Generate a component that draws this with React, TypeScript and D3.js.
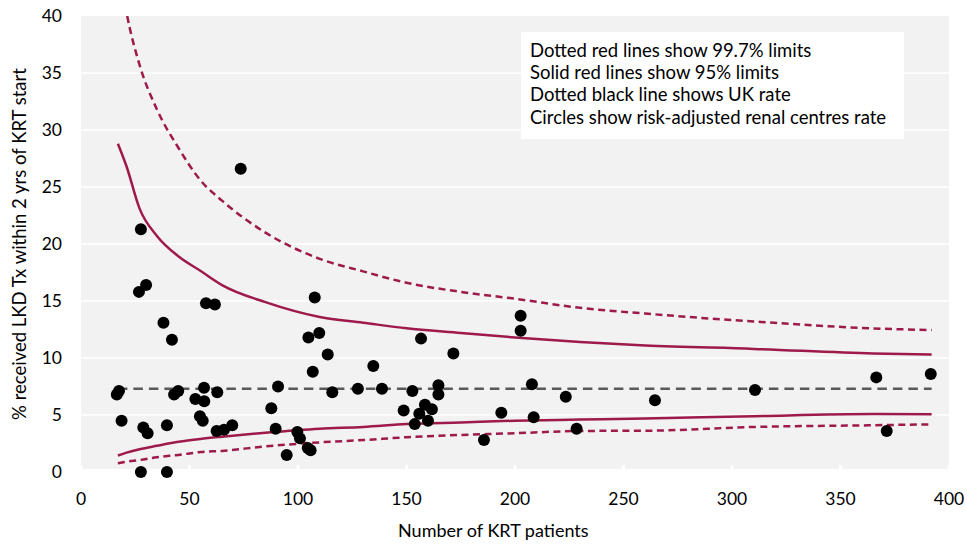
import React from "react";
import * as d3 from "d3";

const width = 967;
const height = 545;
const margin = { left: 81, right: 19, top: 16, bottom: 73 };
const font = "Lato, 'Open Sans', sans-serif";
const red = "#9e1a4b";

// renal centres: number of KRT patients and risk-adjusted rate (%)
const centreN = [
  73.6, 27.6, 30, 26.7, 57.6, 61.7, 38, 41.9, 16.5, 17.5, 18.7, 28.7, 30.7, 39.6,
  42.9, 44.8, 56.7, 52.7, 56.8, 54.8, 56.1, 62.8, 62.5, 65.9, 69.7, 27.6, 39.6,
  107.7, 104.8, 109.8, 113.7, 106.8, 90.8, 115.8, 127.6, 138.7, 134.7, 87.7, 89.7,
  99.7, 100.9, 104.5, 105.8, 94.8, 156.7, 171.6, 152.7, 164.7, 164.7, 148.7, 158.5,
  161.7, 155.9, 159.9, 153.8, 202.6, 202.6, 207.8, 223.4, 208.6, 193.7, 185.7,
  228.4, 264.5, 310.6, 366.5, 391.6, 371.3,
];
const centreRate = [
  26.6, 21.3, 16.4, 15.8, 14.8, 14.7, 13.1, 11.6, 6.8, 7.1, 4.5, 3.9, 3.4, 4.1,
  6.8, 7.1, 7.4, 6.4, 6.2, 4.9, 4.5, 7.0, 3.6, 3.7, 4.1, 0, 0,
  15.3, 11.8, 12.2, 10.3, 8.8, 7.5, 7.0, 7.3, 7.3, 9.3, 5.6, 3.8,
  3.5, 2.95, 2.1, 1.9, 1.5, 11.7, 10.4, 7.1, 7.6, 6.8, 5.4, 5.9,
  5.5, 5.1, 4.5, 4.2, 13.7, 12.4, 7.7, 6.6, 4.8, 5.2, 2.8,
  3.8, 6.3, 7.2, 8.3, 8.6, 3.6,
];

// funnel limits read at these patient numbers
const limitN = [17, 21, 27, 35, 45, 55, 65, 85, 110, 130, 150, 175, 200, 230, 260, 310, 365, 392];
const upper95 = [28.8, 26.8, 23.1, 20.7, 18.9, 17.65, 16.4, 14.9, 13.6, 13.1, 12.6, 12.2, 11.8, 11.4, 11.1, 10.8, 10.4, 10.3];
const lower95 = [1.45, 1.7, 2.0, 2.3, 2.65, 2.9, 3.1, 3.45, 3.8, 3.95, 4.2, 4.35, 4.5, 4.6, 4.7, 4.9, 5.08, 5.06];
const upper997 = [45, 40.3, 35.7, 31.8, 28.4, 25.6, 23.8, 21.0, 18.7, 17.6, 16.6, 15.8, 15.2, 14.4, 13.9, 13.2, 12.6, 12.45];
const lower997 = [0.76, 0.9, 1.05, 1.3, 1.5, 1.75, 1.85, 2.25, 2.6, 2.8, 3.05, 3.25, 3.4, 3.6, 3.62, 3.95, 4.1, 4.18];

const ukRate = 7.3;
const ukRange = [17, 392];

const xTicks = [0, 50, 100, 150, 200, 250, 300, 350, 400];
const yTicks = [0, 5, 10, 15, 20, 25, 30, 35, 40];

const legendLines = [
  "Dotted red lines show 99.7% limits",
  "Solid red lines show 95% limits",
  "Dotted black line shows UK rate",
  "Circles show risk-adjusted renal centres rate",
];

const x = d3.scaleLinear().domain([0, 400]).range([margin.left, width - margin.right + 1]);
const y = d3.scaleLinear().domain([0, 40]).range([height - margin.bottom, margin.top]);

const limitLine = (vals: number[]) =>
  d3
    .line<number>()
    .x((_, i) => x(limitN[i]))
    .y((d) => y(d))
    .curve(d3.curveMonotoneX)(vals) as string;

const App = () => {
  const plotBottom = y(0) - 3;
  return (
    <svg
      width={width}
      height={height}
      style={{ position: "absolute", left: 0, top: 0, background: "white" }}
      fontFamily={font}
    >
      <defs>
        <clipPath id="plotClip">
          <rect x={margin.left} y={y(40)} width={x(400) - margin.left} height={height} />
        </clipPath>
      </defs>
      <rect
        x={margin.left}
        y={y(40)}
        width={x(400) - margin.left}
        height={plotBottom - y(40)}
        fill="#f2f2f2"
      />
      {yTicks
        .filter((t) => t > 0 && t < 40)
        .map((t) => (
          <line key={t} x1={margin.left} x2={x(400)} y1={y(t)} y2={y(t)} stroke="white" strokeWidth={1.5} />
        ))}
      {xTicks.map((t) => (
        <line key={t} x1={x(t)} x2={x(t)} y1={plotBottom - 4} y2={plotBottom} stroke="white" strokeWidth={3} />
      ))}

      <rect x={521} y={32} width={383} height={107} fill="white" />
      {legendLines.map((t, i) => (
        <text key={t} x={530} y={56.5 + i * 22.4} fontSize={18.5} fill="#000">
          {t}
        </text>
      ))}

      <g clipPath="url(#plotClip)" fill="none" stroke={red} strokeWidth={2.5}>
        <path d={limitLine(upper997)} strokeDasharray="7,4.5" />
        <path d={limitLine(lower997)} strokeDasharray="7,4.5" />
        <path d={limitLine(upper95)} />
        <path d={limitLine(lower95)} />
      </g>
      <line
        x1={x(ukRange[0])}
        x2={x(ukRange[1])}
        y1={y(ukRate)}
        y2={y(ukRate)}
        stroke="#595959"
        strokeWidth={2.5}
        strokeDasharray="9.5,6"
      />

      {centreN.map((n, i) => (
        <circle key={i} cx={x(n)} cy={y(centreRate[i])} r={6} fill="black" />
      ))}

      {yTicks.map((t) => (
        <text key={t} x={62} y={y(t)} dy="0.35em" textAnchor="end" fontSize={17.5} fill="#000">
          {t}
        </text>
      ))}
      {xTicks.map((t) => (
        <text key={t} x={x(t)} y={505} textAnchor="middle" fontSize={17.5} fill="#000">
          {t}
        </text>
      ))}
      <text x={x(190)} y={537} textAnchor="middle" fontSize={18} fill="#000">
        Number of KRT patients
      </text>
      <text
        transform={`translate(26, ${(y(0) + y(40)) / 2}) rotate(-90)`}
        textAnchor="middle"
        fontSize={18.5}
        fill="#000"
      >
        % received LKD Tx within 2 yrs of KRT start
      </text>
    </svg>
  );
};

export default App;
